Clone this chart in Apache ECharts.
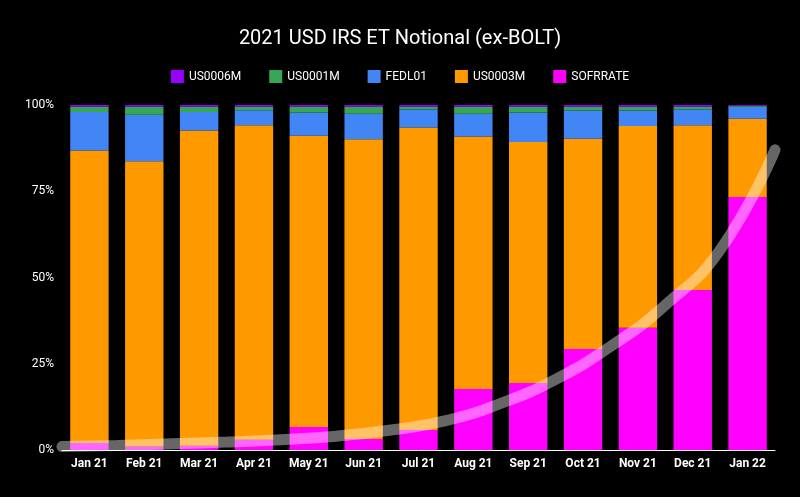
<!DOCTYPE html>
<html>
<head>
<meta charset="UTF-8">
<script src="https://cdn.jsdelivr.net/npm/echarts@6/dist/echarts.min.js"></script>
</head>
<body style="margin:0;background:#000">
<div id="main" style="width:800px;height:497px"></div>
<script>
var months = ['Jan 21','Feb 21','Mar 21','Apr 21','May 21','Jun 21','Jul 21','Aug 21','Sep 21','Oct 21','Nov 21','Dec 21','Jan 22'];
var sofr   = [2, 1, 1.2, 3, 6.7, 3.2, 5.8, 17.7, 19.4, 29.3, 35.4, 46.4, 73.3];
var us6m   = [0.5, 0.5, 0.5, 0.5, 0.5, 0.5, 0.5, 0.5, 0.5, 0.5, 0.5, 0.5, 0.2];
var us1m   = [1.5, 2.3, 1.5, 1.0, 1.7, 2.0, 0.8, 2.0, 1.7, 1.1, 1.1, 0.8, 0.3];
var fedl   = [11.2, 13.5, 5.4, 4.4, 6.7, 7.4, 5.2, 6.6, 8.5, 8.2, 4.5, 4.6, 3.5];
var us3m   = sofr.map(function (s, i) { return +(100 - s - us6m[i] - us1m[i] - fedl[i]).toFixed(1); });
var trend  = [1, 1.3, 1.8, 2.3, 3, 4, 5.8, 8.5, 13.5, 20.5, 30, 42, 58, 87];

var chart = echarts.init(document.getElementById('main'));
function bar(name, data, color) {
    return {name: name, type: 'bar', stack: 'a', data: data, barWidth: '70%', itemStyle: {color: color}};
}
chart.setOption({
    backgroundColor: '#000',
    title: {text: '2021 USD IRS ET Notional (ex-BOLT)', left: 'center', top: 24,
        textStyle: {color: '#fff', fontSize: 20, fontWeight: 'normal', fontFamily: 'Roboto'}},
    legend: {top: 65, itemWidth: 13, itemHeight: 13, itemGap: 28, icon: 'rect',
        textStyle: {color: '#fff', fontSize: 12, fontFamily: 'Roboto'},
        data: ['US0006M', 'US0001M', 'FEDL01', 'US0003M', 'SOFRRATE']},
    grid: {left: 62, right: 25, top: 105, bottom: 47},
    xAxis: [{type: 'category', data: months,
        axisLine: {lineStyle: {color: '#fff'}}, axisTick: {show: false},
        axisLabel: {color: '#fff', fontWeight: 'bold', fontSize: 12, fontFamily: 'Roboto'}},
        {type: 'category', data: trend.map(function (v, i) { return i; }), boundaryGap: false, show: false}],
    yAxis: {type: 'value', min: 0, max: 100, interval: 25, splitLine: {show: false},
        axisLabel: {color: '#fff', formatter: '{value}%', fontFamily: 'Roboto'}},
    series: [
        bar('SOFRRATE', sofr, '#ff00ff'),
        bar('US0003M', us3m, '#ff9900'),
        bar('FEDL01', fedl, '#4285f4'),
        bar('US0001M', us1m, '#34a853'),
        bar('US0006M', us6m, '#9900ff'),
        {type: 'line', xAxisIndex: 1, data: trend, smooth: true, symbol: 'none', silent: true,
            lineStyle: {color: 'rgba(255,255,255,0.4)', width: 11, cap: 'round'}}
    ]
});
</script>
</body>
</html>
